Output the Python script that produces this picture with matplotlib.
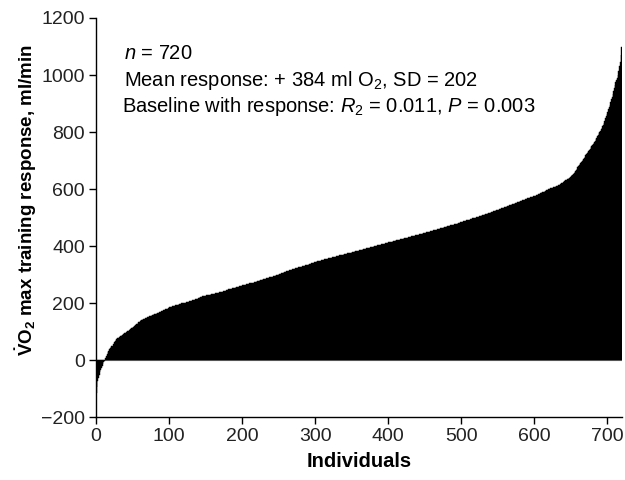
import matplotlib
matplotlib.use("Agg")
import matplotlib.pyplot as plt
import numpy as np

plt.rcParams['font.family'] = ['Liberation Sans', 'DejaVu Sans']
plt.rcParams['mathtext.fontset'] = 'custom'
plt.rcParams['mathtext.rm'] = 'Liberation Sans'
plt.rcParams['mathtext.it'] = 'Liberation Sans:italic'
plt.rcParams['mathtext.bf'] = 'Liberation Sans:bold'

# VO2max training response per individual, sorted
response = [
    -115, -95, -75, -62, -52, -42, -35, -28, -20, -14, -8, -4, 0, 8, 15, 22, 28, 33, 38, 42,
    45, 48, 50, 55, 58, 62, 68, 72, 74, 76, 77, 79, 81, 83, 85, 87, 88, 90, 92, 94,
    96, 97, 99, 101, 103, 105, 107, 109, 111, 113, 115, 117, 119, 121, 123, 125, 127, 129, 132, 135,
    138, 139, 140, 141, 143, 144, 145, 146, 147, 148, 150, 151, 152, 153, 155, 156, 157, 158, 159, 160,
    161, 162, 163, 164, 165, 166, 167, 168, 170, 171, 172, 173, 174, 175, 176, 178, 179, 180, 181, 183,
    185, 186, 187, 188, 189, 190, 190, 191, 192, 193, 194, 194, 195, 196, 197, 197, 198, 199, 200, 200,
    201, 202, 202, 203, 204, 205, 205, 206, 207, 207, 208, 209, 210, 210, 211, 212, 213, 214, 215, 216,
    217, 218, 222, 222, 223, 224, 224, 225, 225, 226, 226, 227, 228, 228, 229, 229, 230, 231, 231, 232,
    232, 233, 233, 234, 235, 235, 236, 236, 237, 238, 238, 239, 240, 240, 241, 242, 243, 244, 245, 246,
    247, 248, 249, 250, 251, 251, 252, 252, 253, 254, 254, 255, 256, 257, 257, 258, 259, 260, 261, 261,
    262, 262, 263, 264, 264, 265, 266, 266, 267, 268, 269, 269, 270, 271, 271, 272, 273, 274, 274, 275,
    276, 277, 278, 279, 280, 280, 281, 282, 283, 284, 284, 285, 286, 287, 288, 288, 289, 290, 291, 292,
    292, 293, 294, 295, 296, 296, 297, 298, 299, 300, 301, 302, 303, 304, 305, 306, 307, 308, 309, 310,
    311, 312, 313, 314, 315, 315, 316, 317, 318, 318, 319, 320, 321, 322, 322, 323, 324, 325, 326, 326,
    327, 328, 329, 330, 330, 331, 332, 333, 334, 334, 335, 336, 337, 338, 339, 340, 340, 341, 342, 343,
    345, 345, 346, 347, 347, 348, 349, 349, 350, 351, 351, 352, 353, 353, 354, 355, 355, 356, 357, 357,
    358, 359, 359, 360, 361, 361, 362, 363, 363, 364, 365, 365, 366, 367, 367, 368, 369, 369, 370, 371,
    371, 372, 373, 373, 374, 375, 375, 376, 377, 377, 378, 379, 379, 380, 381, 381, 382, 383, 383, 384,
    385, 385, 386, 387, 387, 388, 389, 390, 390, 391, 392, 392, 393, 394, 394, 395, 396, 397, 397, 398,
    399, 399, 400, 401, 401, 402, 403, 404, 404, 405, 406, 406, 407, 408, 408, 409, 410, 411, 411, 412,
    413, 413, 414, 415, 415, 416, 417, 418, 418, 419, 420, 420, 421, 422, 422, 423, 424, 424, 425, 426,
    426, 427, 428, 428, 429, 430, 430, 431, 432, 432, 433, 434, 434, 435, 436, 436, 437, 438, 438, 439,
    440, 440, 441, 442, 442, 443, 444, 445, 445, 446, 447, 447, 448, 449, 450, 450, 451, 452, 453, 453,
    454, 455, 455, 456, 457, 458, 458, 459, 460, 461, 461, 462, 463, 464, 464, 465, 466, 467, 467, 468,
    469, 470, 470, 471, 472, 473, 473, 474, 475, 475, 476, 477, 478, 479, 479, 480, 481, 482, 483, 483,
    484, 485, 486, 487, 487, 488, 489, 490, 491, 492, 492, 493, 494, 495, 496, 497, 497, 498, 499, 500,
    501, 502, 503, 503, 504, 505, 506, 507, 508, 509, 510, 510, 511, 512, 513, 514, 515, 516, 517, 517,
    518, 519, 520, 521, 522, 523, 524, 525, 525, 526, 527, 528, 529, 530, 531, 532, 533, 534, 535, 536,
    537, 538, 539, 540, 541, 542, 543, 544, 545, 546, 547, 548, 549, 550, 551, 552, 553, 554, 555, 556,
    557, 558, 559, 560, 561, 562, 563, 564, 565, 566, 567, 568, 569, 570, 571, 571, 572, 573, 574, 575,
    576, 577, 578, 579, 580, 582, 583, 584, 585, 586, 588, 589, 590, 591, 593, 594, 595, 596, 598, 599,
    600, 601, 602, 603, 604, 605, 606, 607, 608, 609, 610, 611, 612, 613, 614, 616, 618, 620, 622, 624,
    626, 628, 630, 632, 633, 634, 636, 638, 640, 642, 645, 648, 651, 654, 657, 660, 664, 668, 672, 676,
    680, 684, 688, 692, 696, 700, 703, 706, 710, 714, 718, 722, 726, 730, 734, 738, 742, 746, 750, 754,
    758, 762, 766, 770, 775, 780, 785, 790, 795, 800, 805, 810, 815, 820, 825, 832, 840, 848, 856, 864,
    872, 880, 888, 896, 905, 915, 924, 934, 944, 955, 965, 975, 982, 990, 1000, 1015, 1030, 1045, 1070, 1100,
]
individuals = np.arange(len(response))

x_ticks = [0, 100, 200, 300, 400, 500, 600, 700]
y_ticks = [-200, 0, 200, 400, 600, 800, 1000, 1200]

fig = plt.figure(figsize=(6.25, 4.8), dpi=100)
ax = fig.add_axes([0.1536, 0.131, 0.8416, 0.8315])

ax.bar(individuals, response, width=1.0, align='edge', color='black',
       edgecolor='black', linewidth=0.3)
ax.axhline(0, color='0.45', lw=0.8, zorder=0.5)

ax.set_xlim(0, 720)
ax.set_ylim(-200, 1200)
ax.set_xticks(x_ticks)
ax.set_yticks(y_ticks)
ax.set_yticklabels([str(t).replace('-', '\u2212') for t in y_ticks])

for s in ['top', 'right']:
    ax.spines[s].set_visible(False)
for s in ['left', 'bottom']:
    ax.spines[s].set_linewidth(1.0)
ax.tick_params(direction='out', length=5, width=1.0, labelsize=14, pad=3,
               labelcolor='#222222')

ax.set_xlabel('Individuals', fontsize=14.5, fontweight='bold', labelpad=5)
ax.set_ylabel(r'$\mathbf{\dot{V}O_2}$ max training response, ml/min',
              fontsize=13.5, fontweight='bold')
ax.yaxis.set_label_coords(-0.108, 0.545)

ax.text(38, 1077, r'$n$ = 720', fontsize=14.5, va='center', ha='left')
ax.text(38, 982, r'Mean response: + 384 ml O$_2$, SD = 202', fontsize=14.5,
        va='center', ha='left')
ax.text(36, 888, r'Baseline with response: $R_2$ = 0.011, $P$ = 0.003',
        fontsize=14.5, va='center', ha='left')

fig.savefig('out.png', dpi=100)
